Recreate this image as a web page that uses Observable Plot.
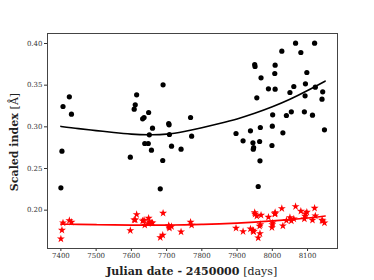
<!DOCTYPE html>
<html>
<head>
<meta charset="utf-8">
<script src="https://cdn.jsdelivr.net/npm/d3@7"></script>
<script src="https://cdn.jsdelivr.net/npm/@observablehq/plot@0.6"></script>
<style>
  html, body { margin: 0; padding: 0; background: #fff; }
  #chart svg { display: block; }
</style>
</head>
<body>
<div id="chart"></div>
<script>
// Julian date - 2450000 [days]
const jd = [7400, 7403, 7406, 7424, 7430, 7597, 7608, 7611, 7615, 7632, 7636, 7649, 7638, 7648, 7651, 7657, 7660, 7690, 7689, 7682, 7706, 7707, 7708, 7714, 7741, 7768, 7771, 7897, 7917, 7938, 7945, 7946, 7947, 7950, 7951, 7956, 7964, 7966, 7965, 7960, 7968, 7989, 7999, 8000, 8001, 8008, 8007, 8008, 8027, 8030, 8040, 8050, 8054, 8061, 8066, 8081, 8091, 8093, 8094, 8098, 8114, 8120, 8122, 8141, 8143, 8148];
// Scaled index (black circles)
const blackIndex = [0.2268, 0.2708, 0.3244, 0.3360, 0.3152, 0.2636, 0.3212, 0.3264, 0.3384, 0.3096, 0.3112, 0.3172, 0.2800, 0.2800, 0.2904, 0.2720, 0.2984, 0.3504, 0.2596, 0.2256, 0.3040, 0.3024, 0.2908, 0.2768, 0.2732, 0.3112, 0.2888, 0.2920, 0.2832, 0.2952, 0.2808, 0.2732, 0.2752, 0.3748, 0.3724, 0.3348, 0.2824, 0.2992, 0.2592, 0.2284, 0.3588, 0.3456, 0.2776, 0.3008, 0.3144, 0.3740, 0.3640, 0.3452, 0.3908, 0.2928, 0.3136, 0.3412, 0.3180, 0.3484, 0.4004, 0.3892, 0.3180, 0.3372, 0.3516, 0.3652, 0.3140, 0.4004, 0.3476, 0.3332, 0.3420, 0.2964];
// Scaled index (red stars)
const redIndex = [0.1656, 0.1760, 0.1848, 0.1876, 0.1856, 0.1756, 0.1884, 0.1884, 0.1948, 0.1872, 0.1880, 0.1904, 0.1820, 0.1840, 0.1860, 0.1848, 0.1848, 0.1964, 0.1700, 0.1672, 0.1816, 0.1800, 0.1784, 0.1804, 0.1740, 0.1856, 0.1820, 0.1784, 0.1744, 0.1776, 0.1760, 0.1744, 0.1744, 0.1972, 0.1952, 0.1928, 0.1808, 0.1828, 0.1720, 0.1668, 0.1940, 0.1916, 0.1792, 0.1828, 0.1848, 0.1972, 0.1956, 0.1956, 0.2020, 0.1812, 0.1876, 0.1912, 0.1872, 0.1896, 0.2044, 0.1988, 0.1896, 0.1928, 0.1956, 0.1976, 0.1880, 0.2024, 0.1932, 0.1880, 0.1872, 0.1848];
// Fitted trend lines
const fitJd = [7400, 7450, 7500, 7550, 7600, 7650, 7700, 7750, 7800, 7850, 7900, 7950, 8000, 8050, 8100, 8150];
const fitBlack = [0.3005, 0.2978, 0.2955, 0.2932, 0.2913, 0.2905, 0.2912, 0.2945, 0.2990, 0.3040, 0.3095, 0.3162, 0.3240, 0.3330, 0.3435, 0.3548];
const fitRed = [0.1832, 0.1829, 0.1826, 0.1823, 0.1821, 0.1820, 0.1821, 0.1824, 0.1829, 0.1836, 0.1845, 0.1857, 0.1871, 0.1887, 0.1906, 0.1930];
const xTicks = [7400, 7500, 7600, 7700, 7800, 7900, 8000, 8100];
const yTicks = [0.20, 0.25, 0.30, 0.35, 0.40];

const black = jd.map((x, i) => ({x, y: blackIndex[i]}));
const red = jd.map((x, i) => ({x, y: redIndex[i]}));
const fitB = fitJd.map((x, i) => ({x, y: fitBlack[i]}));
const fitR = fitJd.map((x, i) => ({x, y: fitRed[i]}));

const serif = "'DejaVu Serif', 'Liberation Serif', serif";

const plot = Plot.plot({
  width: 374,
  height: 280,
  marginLeft: 47,
  marginRight: 37,
  marginTop: 33,
  marginBottom: 32,
  style: {fontFamily: serif, fontSize: "7px", color: "#333", background: "#fff"},
  x: {domain: [7362, 8185], ticks: xTicks, tickFormat: d3.format("d"), tickSize: 3, tickPadding: 2, label: null},
  y: {domain: [0.154, 0.412], ticks: yTicks, tickFormat: d3.format(".2f"), tickSize: 3, tickPadding: 2, label: null},
  marks: [
    Plot.line(fitB, {x: "x", y: "y", stroke: "black", strokeWidth: 1.6, curve: "natural"}),
    Plot.line(fitR, {x: "x", y: "y", stroke: "red", strokeWidth: 1.6, curve: "natural"}),
    Plot.dot(black, {x: "x", y: "y", r: 2.6, fill: "black", stroke: "none"}),
    Plot.dot(red, {x: "x", y: "y", r: 2.5, symbol: "star", fill: "red", stroke: "none"}),
    Plot.frame({stroke: "#444", strokeWidth: 1})
  ]
});
document.getElementById("chart").appendChild(plot);

const svg = d3.select(plot);
const xl = svg.append("text")
  .attr("x", 191.7).attr("y", 275)
  .attr("text-anchor", "middle")
  .style("font-family", serif).style("font-size", "11px").attr("fill", "#222");
xl.append("tspan").attr("font-weight", "bold").text("Julian date - 2450000 ");
xl.append("tspan").text("[days]");

const yl = svg.append("text")
  .attr("transform", "translate(18,142) rotate(-90)")
  .attr("text-anchor", "middle")
  .style("font-family", serif).style("font-size", "11px").attr("fill", "#222");
yl.append("tspan").attr("font-weight", "bold").text("Scaled index ");
yl.append("tspan").text("[Å]");
</script>
</body>
</html>
